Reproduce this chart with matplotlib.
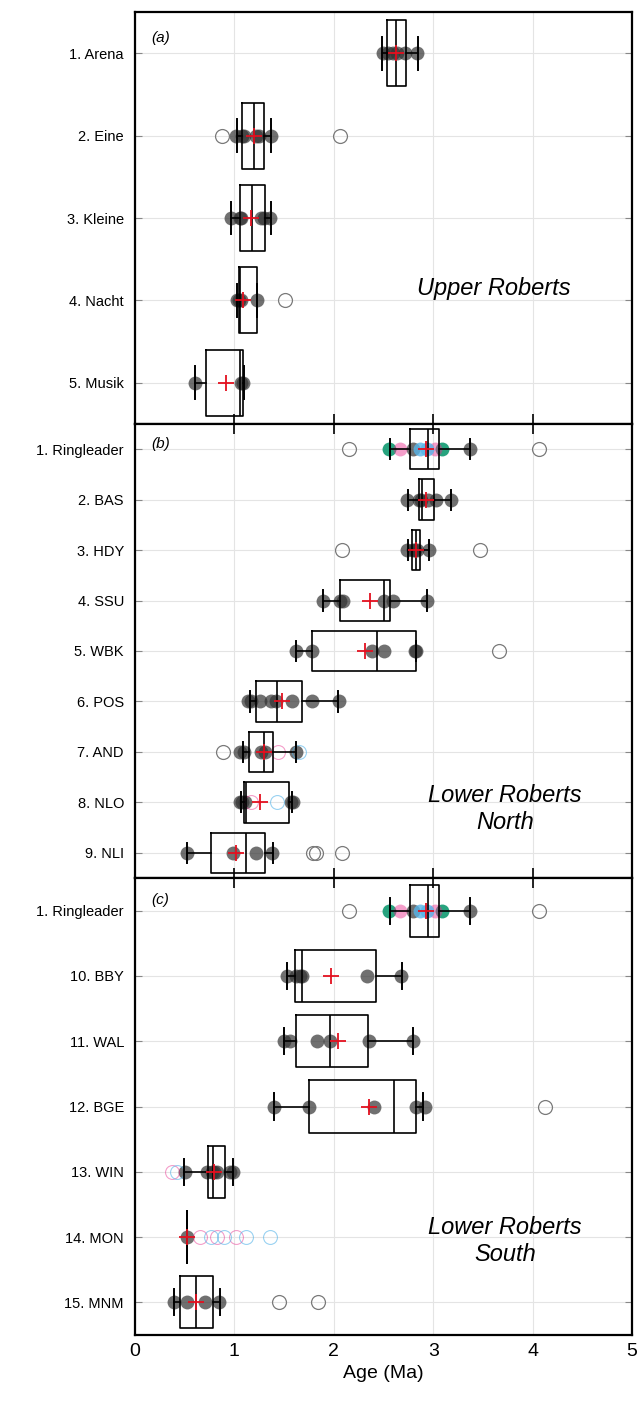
import matplotlib
matplotlib.use('Agg')
import matplotlib.pyplot as plt

plt.rcParams['font.family'] = ['Liberation Sans', 'DejaVu Sans']

# ---- panel (a) Upper Roberts ----
a_labels = ['1. Arena', '2. Eine', '3. Kleine', '4. Nacht', '5. Musik']
a_q1 = [2.535, 1.073, 1.06, 1.046, 0.711]
a_med = [2.622, 1.20, 1.174, 1.06, 1.06]
a_q3 = [2.723, 1.294, 1.305, 1.227, 1.09]
a_lo = [2.488, 1.023, 0.969, 1.023, 0.60]
a_hi = [2.844, 1.365, 1.365, 1.227, 1.10]
a_mean = [2.63, 1.194, 1.17, 1.09, 0.915]
a_pts = [[2.49, 2.55, 2.60, 2.64, 2.72, 2.84],
         [1.02, 1.08, 1.10, 1.22, 1.25, 1.365],
         [0.97, 1.06, 1.07, 1.27, 1.30, 1.36],
         [1.03, 1.05, 1.07, 1.23],
         [0.60, 1.07, 1.09]]
a_out = [[], [0.88, 2.06], [], [1.51], []]

# ---- Ringleader (shared by b and c) ----
ring_green = [2.56, 3.09]
ring_pink = [2.67, 3.02]
ring_blue = [2.87, 2.94]

# ---- panel (b) Lower Roberts North ----
b_labels = ['1. Ringleader', '2. BAS', '3. HDY', '4. SSU', '5. WBK',
            '6. POS', '7. AND', '8. NLO', '9. NLI']
b_q1 = [2.767, 2.854, 2.79, 2.062, 1.78, 1.214, 1.147, 1.097, 0.761]
b_med = [2.944, 2.887, 2.827, 2.505, 2.438, 1.429, 1.301, 1.113, 1.113]
b_q3 = [3.062, 3.011, 2.87, 2.565, 2.823, 1.677, 1.385, 1.546, 1.305]
b_lo = [2.562, 2.743, 2.743, 1.895, 1.616, 1.157, 1.09, 1.066, 0.527]
b_hi = [3.367, 3.179, 2.958, 2.934, 2.824, 2.046, 1.616, 1.576, 1.392]
b_mean = [2.924, 2.924, 2.827, 2.364, 2.317, 1.476, 1.30, 1.258, 1.016]
b_pts = [[2.80, 3.37],
         [2.74, 2.86, 2.88, 2.95, 3.03, 3.18],
         [2.74, 2.80, 2.82, 2.84, 2.96],
         [1.895, 2.06, 2.09, 2.51, 2.60, 2.934],
         [1.62, 1.78, 2.38, 2.50, 2.82, 2.83],
         [1.14, 1.17, 1.26, 1.37, 1.42, 1.58, 1.78, 2.05],
         [1.06, 1.10, 1.27, 1.31, 1.62],
         [1.06, 1.08, 1.11, 1.57, 1.59],
         [0.527, 0.99, 1.22, 1.38]]
b_out = [[2.15, 4.06], [], [2.08, 3.47], [], [3.66], [], [0.885], [], [1.79, 1.82, 2.08]]
b_pink_out = [[], [], [], [], [], [], [1.44], [1.17], []]
b_blue_out = [[], [], [], [], [], [], [1.65], [1.425], []]

# ---- panel (c) Lower Roberts South ----
c_labels = ['1. Ringleader', '10. BBY', '11. WAL', '12. BGE', '13. WIN',
            '14. MON', '15. MNM']
c_q1 = [2.767, 1.61, 1.623, 1.75, 0.734, 0.527, 0.453]
c_med = [2.944, 1.68, 1.962, 2.609, 0.78, 0.527, 0.61]
c_q3 = [3.062, 2.421, 2.344, 2.83, 0.909, 0.527, 0.781]
c_lo = [2.562, 1.533, 1.50, 1.398, 0.496, 0.527, 0.392]
c_hi = [3.367, 2.683, 2.80, 2.90, 0.986, 0.527, 0.855]
c_mean = [2.924, 1.968, 2.046, 2.357, 0.798, 0.527, 0.61]
c_pts = [[2.80, 3.37],
         [1.53, 1.62, 1.66, 1.68, 2.33, 2.68],
         [1.50, 1.56, 1.83, 1.96, 2.35, 2.80],
         [1.40, 1.75, 2.40, 2.83, 2.92],
         [0.50, 0.72, 0.77, 0.79, 0.82, 0.96, 0.99],
         [0.527],
         [0.39, 0.52, 0.70, 0.85]]
c_out = [[2.15, 4.06], [], [], [4.12], [], [], [1.45, 1.84]]
c_pink_out = [[], [], [], [], [0.37], [0.65, 0.82, 1.02], []]
c_blue_out = [[], [], [], [], [0.42], [0.76, 0.90, 1.12, 1.36], []]

GREEN = '#1b9e77'
PINK = '#e7298a'
BLUE = '#56b4e9'
RED = '#e3101f'
MS = 10


def scatter_rows(ax, rows, **kw):
    for i, vals in enumerate(rows):
        if vals:
            ax.plot(vals, [i + 1] * len(vals), 'o', linestyle='none', **kw)


def panel(ax, labels, q1, med, q3, lo, hi, mean, pts, out,
          pink_out=None, blue_out=None, ring=False):
    n = len(labels)
    ys = list(range(1, n + 1))
    ax.grid(True, color='#e4e4e4', lw=0.8, zorder=0)
    ax.set_axisbelow(True)

    scatter_rows(ax, pts, ms=MS, mfc='#333333', mec='none', alpha=0.7, zorder=2)
    if ring:
        ax.plot(ring_green, [1] * len(ring_green), 'o', ms=MS, mfc=GREEN, mec='none', alpha=0.95, zorder=2)
        ax.plot(ring_pink, [1] * len(ring_pink), 'o', ms=MS, mfc=PINK, mec='none', alpha=0.45, zorder=2)
        ax.plot(ring_blue, [1] * len(ring_blue), 'o', ms=MS, mfc=BLUE, mec='none', alpha=0.8, zorder=2)
    scatter_rows(ax, out, ms=MS, mfc='none', mec='#7a7a7a', mew=0.9, zorder=2)
    if pink_out:
        scatter_rows(ax, pink_out, ms=MS, mfc='none', mec=PINK, mew=0.8, alpha=0.45, zorder=2)
    if blue_out:
        scatter_rows(ax, blue_out, ms=MS, mfc='none', mec=BLUE, mew=0.8, alpha=0.6, zorder=2)

    stats = [dict(q1=q1[i], med=med[i], q3=q3[i], whislo=lo[i], whishi=hi[i],
                  mean=mean[i], fliers=[]) for i in range(n)]
    line = dict(color='black', lw=1.2)
    kw = dict(positions=ys, widths=0.8, capwidths=0.4, showmeans=True,
              showfliers=False, boxprops=line, medianprops=line,
              whiskerprops=line, capprops=dict(color='black', lw=1.4),
              meanprops=dict(marker='+', markeredgecolor=RED, markersize=12,
                             markeredgewidth=1.3),
              manage_ticks=False, zorder=3)
    try:
        ax.bxp(stats, orientation='horizontal', **kw)
    except TypeError:
        ax.bxp(stats, vert=False, **kw)

    ax.set_xlim(0, 5)
    ax.set_ylim(n + 0.5, 0.5)
    ax.set_yticks(ys)
    ax.set_yticklabels(labels, fontsize=10.5)
    ax.set_xticks(range(6))
    ax.tick_params(axis='y', direction='in', length=5, left=True, right=True,
                   pad=8, color='#888888')
    ax.tick_params(axis='x', direction='in', length=7, top=True, bottom=True, width=1.2)
    for s in ax.spines.values():
        s.set_linewidth(1.6)


W, H = 641, 1402
fig = plt.figure(figsize=(W / 100, H / 100), dpi=100)
L, R = 135 / W, 632 / W


def add(top, bot):
    return fig.add_axes([L, 1 - bot / H, R - L, (bot - top) / H])


ax_a = add(12, 424)
ax_b = add(424, 878)
ax_c = add(878, 1335)

panel(ax_a, a_labels, a_q1, a_med, a_q3, a_lo, a_hi, a_mean, a_pts, a_out)
panel(ax_b, b_labels, b_q1, b_med, b_q3, b_lo, b_hi, b_mean, b_pts, b_out,
      b_pink_out, b_blue_out, ring=True)
panel(ax_c, c_labels, c_q1, c_med, c_q3, c_lo, c_hi, c_mean, c_pts, c_out,
      c_pink_out, c_blue_out, ring=True)

# outer edges carry no x ticks, only the shared panel boundaries do
ax_a.tick_params(axis='x', top=False, labelbottom=False)
ax_b.tick_params(labelbottom=False)
ax_c.tick_params(axis='x', bottom=False, labelsize=14, pad=6)
ax_c.set_xlabel('Age (Ma)', fontsize=14, labelpad=3)

ax_a.text(0.032, 0.937, '(a)', transform=ax_a.transAxes, style='italic', fontsize=11, va='center')
ax_b.text(0.032, 0.956, '(b)', transform=ax_b.transAxes, style='italic', fontsize=11, va='center')
ax_c.text(0.032, 0.952, '(c)', transform=ax_c.transAxes, style='italic', fontsize=11, va='center')

ax_a.text(3.61, 3.86, 'Upper Roberts', style='italic', fontsize=17, ha='center', va='center')
ax_b.text(3.72, 8.13, 'Lower Roberts\nNorth', style='italic', fontsize=17, ha='center',
          va='center', linespacing=1.25)
ax_c.text(3.72, 6.06, 'Lower Roberts\nSouth', style='italic', fontsize=17, ha='center',
          va='center', linespacing=1.25)

fig.savefig('out.png', dpi=100)
